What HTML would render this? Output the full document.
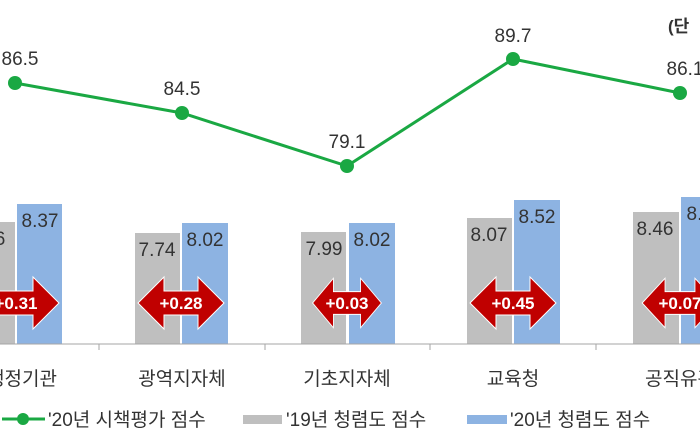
<!DOCTYPE html>
<html><head><meta charset="utf-8"><style>
body{margin:0;background:#fff}
svg text{font-family:"Liberation Sans","Noto Sans CJK KR",sans-serif}
</style></head><body>
<svg width="700" height="440" viewBox="0 0 700 440" xmlns="http://www.w3.org/2000/svg">
<defs>
<g id="arr">
<polygon points="-43,0 -17,-26 -17,-12 17,-12 17,-26 43,0 17,26 17,12 -17,12 -17,26" fill="#c00000" stroke="#fff" stroke-width="1"/>
</g>
</defs>
<text x="668" y="32" font-size="17" font-weight="bold" fill="#333">(단</text>
<g fill="#bfbfbf">
<rect x="-30" y="222" width="45" height="122"/>
<rect x="135" y="233" width="45" height="111"/>
<rect x="301" y="232" width="45" height="112"/>
<rect x="467" y="218" width="45" height="126"/>
<rect x="633" y="212" width="46" height="132"/>
</g>
<g fill="#8db3e2">
<rect x="17" y="204" width="45" height="140"/>
<rect x="182" y="223" width="46" height="121"/>
<rect x="349" y="223" width="46" height="121"/>
<rect x="514" y="200" width="46" height="144"/>
<rect x="681" y="197" width="46" height="147"/>
</g>
<g font-size="19" fill="#333" text-anchor="middle">
<text x="0" y="245">6</text><text x="40" y="227">8.37</text>
<text x="157" y="256">7.74</text><text x="205" y="246">8.02</text>
<text x="324" y="255">7.99</text><text x="372" y="246">8.02</text>
<text x="489" y="241">8.07</text><text x="537" y="223">8.52</text>
<text x="655" y="235">8.46</text><text x="705" y="220">8.53</text>
</g>
<line x1="0" y1="344" x2="700" y2="344" stroke="#a6a6a6" stroke-width="1"/>
<g stroke="#a6a6a6"><line x1="99" y1="344" x2="99" y2="350"/><line x1="265" y1="344" x2="265" y2="350"/><line x1="430" y1="344" x2="430" y2="350"/><line x1="596" y1="344" x2="596" y2="350"/></g>
<g font-size="17" font-weight="bold" fill="#fff" text-anchor="middle">
<use href="#arr" x="16" y="303"/><text x="16" y="309">+0.31</text>
<use href="#arr" x="181" y="303"/><text x="181" y="309">+0.28</text>
<use href="#arr" transform="translate(347,303) scale(0.8,0.95)"/><text x="347" y="309">+0.03</text>
<use href="#arr" x="513" y="303"/><text x="513" y="309">+0.45</text>
<use href="#arr" transform="translate(680,303) scale(0.88,0.95)"/><text x="680" y="309">+0.07</text>
</g>
<polyline points="15,83 182,113 347,166 513,59 680,93" fill="none" stroke="#1aa843" stroke-width="3"/>
<g fill="#1aa843">
<circle cx="15" cy="83" r="7"/><circle cx="182" cy="113" r="7"/><circle cx="347" cy="166" r="7"/><circle cx="513" cy="59" r="7"/><circle cx="680" cy="93" r="7"/>
</g>
<g font-size="19" fill="#333" text-anchor="middle">
<text x="20" y="65">86.5</text><text x="182" y="95">84.5</text><text x="347" y="148">79.1</text><text x="513" y="42">89.7</text><text x="685" y="75">86.1</text>
</g>
<g font-size="19" fill="#333" text-anchor="middle">
<text x="22" y="385">행정기관</text><text x="182" y="385">광역지자체</text><text x="347" y="385">기초지자체</text><text x="513" y="385">교육청</text><text x="680" y="385">공직유관</text>
</g>
<line x1="2" y1="419" x2="45" y2="419" stroke="#1aa843" stroke-width="3"/><circle cx="23" cy="419" r="6" fill="#1aa843"/>
<text x="48" y="426" font-size="19" fill="#333">'20년 시책평가 점수</text>
<rect x="243" y="415" width="39" height="9" fill="#bfbfbf"/>
<text x="286" y="426" font-size="19" fill="#333">'19년 청렴도 점수</text>
<rect x="467" y="415" width="40" height="9" fill="#8db3e2"/>
<text x="510" y="426" font-size="19" fill="#333">'20년 청렴도 점수</text>
</svg>
</body></html>
